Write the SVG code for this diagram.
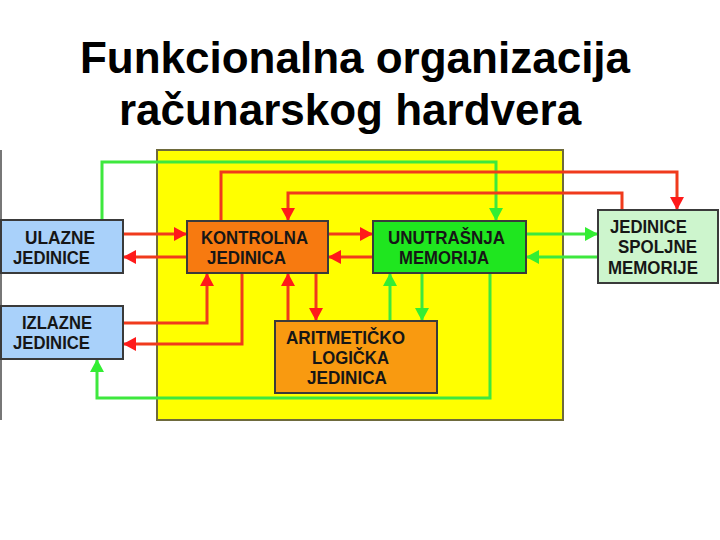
<svg xmlns="http://www.w3.org/2000/svg" width="720" height="540" viewBox="0 0 720 540">
<defs>
<style>
.title{font-family:"Liberation Sans",Arial,sans-serif;font-weight:bold;font-size:44px;fill:#000}
.lbl{font-family:"Liberation Sans",Arial,sans-serif;font-weight:bold;font-size:17.5px;fill:#161616}
.box{stroke:#3a3a3a;stroke-width:2}
.r{fill:none;stroke:#f03a1c;stroke-width:3}
.g{fill:none;stroke:#3ee83e;stroke-width:3}
</style>
<marker id="ar" markerUnits="userSpaceOnUse" markerWidth="14" markerHeight="14" refX="13" refY="7" orient="auto" viewBox="0 0 14 14"><path d="M0,0 L13,7 L0,14 z" fill="#ff1a1a"/></marker>
<marker id="ag" markerUnits="userSpaceOnUse" markerWidth="14" markerHeight="14" refX="13" refY="7" orient="auto" viewBox="0 0 14 14"><path d="M0,0 L13,7 L0,14 z" fill="#33ee33"/></marker>
</defs>
<rect width="720" height="540" fill="#fff"/>
<text class="title" x="355" y="73" text-anchor="middle">Funkcionalna organizacija</text>
<text class="title" x="350" y="125" text-anchor="middle">računarskog hardvera</text>
<line x1="1" y1="150" x2="1" y2="420" stroke="#777" stroke-width="2"/>
<rect x="157" y="150" width="406" height="270" fill="#ffff00" stroke="#6e6a3c" stroke-width="2"/>
<g id="connectors">
<path class="g" d="M102,220 V162 H496 V221" marker-end="url(#ag)"/>
<path class="r" d="M221,221 V172 H677 V210" marker-end="url(#ar)"/>
<path class="r" d="M622,210 V193 H288 V221" marker-end="url(#ar)"/>
<path class="r" d="M123,234 H187" marker-end="url(#ar)"/>
<path class="r" d="M187,257 H123" marker-end="url(#ar)"/>
<path class="r" d="M328,234 H373" marker-end="url(#ar)"/>
<path class="r" d="M373,257 H328" marker-end="url(#ar)"/>
<path class="g" d="M526,234 H598" marker-end="url(#ag)"/>
<path class="g" d="M598,257 H526" marker-end="url(#ag)"/>
<path class="r" d="M123,323 H207 V273" marker-end="url(#ar)"/>
<path class="r" d="M242,273 V344 H123" marker-end="url(#ar)"/>
<path class="r" d="M288,321 V273" marker-end="url(#ar)"/>
<path class="r" d="M316,273 V321" marker-end="url(#ar)"/>
<path class="g" d="M390,321 V273" marker-end="url(#ag)"/>
<path class="g" d="M422,273 V321" marker-end="url(#ag)"/>
<path class="g" d="M490,273 V398 H97 V359" marker-end="url(#ag)"/>
</g>
<g id="ulazne">
<rect class="box" x="1" y="220" width="122" height="53" fill="#a9d1fa"/>
<text class="lbl" x="25" y="244" textLength="70" lengthAdjust="spacingAndGlyphs">ULAZNE</text>
<text class="lbl" x="13" y="264" textLength="77" lengthAdjust="spacingAndGlyphs">JEDINICE</text>
</g>
<g id="izlazne">
<rect class="box" x="1" y="306" width="122" height="53" fill="#a9d1fa"/>
<text class="lbl" x="22" y="329" textLength="70" lengthAdjust="spacingAndGlyphs">IZLAZNE</text>
<text class="lbl" x="13" y="349" textLength="77" lengthAdjust="spacingAndGlyphs">JEDINICE</text>
</g>
<g id="kontrolna">
<rect class="box" x="187" y="221" width="141" height="52" fill="#f77a10"/>
<text class="lbl" x="201" y="244" textLength="107" lengthAdjust="spacingAndGlyphs">KONTROLNA</text>
<text class="lbl" x="207" y="264" textLength="79" lengthAdjust="spacingAndGlyphs">JEDINICA</text>
</g>
<g id="unutrasnja">
<rect class="box" x="373" y="221" width="153" height="52" fill="#1fe61f"/>
<text class="lbl" x="388" y="244" textLength="117" lengthAdjust="spacingAndGlyphs">UNUTRAŠNJA</text>
<text class="lbl" x="399" y="264" textLength="90" lengthAdjust="spacingAndGlyphs">MEMORIJA</text>
</g>
<g id="spoljne">
<rect class="box" x="598" y="210" width="120" height="73" fill="#cdf5cd"/>
<text class="lbl" x="610" y="233" textLength="77" lengthAdjust="spacingAndGlyphs">JEDINICE</text>
<text class="lbl" x="618" y="253" textLength="79" lengthAdjust="spacingAndGlyphs">SPOLJNE</text>
<text class="lbl" x="608" y="274" textLength="90" lengthAdjust="spacingAndGlyphs">MEMORIJE</text>
</g>
<g id="alu">
<rect class="box" x="275" y="321" width="162" height="72" fill="#f99a10"/>
<text class="lbl" x="286" y="344" textLength="119" lengthAdjust="spacingAndGlyphs">ARITMETIČKO</text>
<text class="lbl" x="312" y="364" textLength="77" lengthAdjust="spacingAndGlyphs">LOGIČKA</text>
<text class="lbl" x="307" y="384" textLength="80" lengthAdjust="spacingAndGlyphs">JEDINICA</text>
</g>
</svg>
